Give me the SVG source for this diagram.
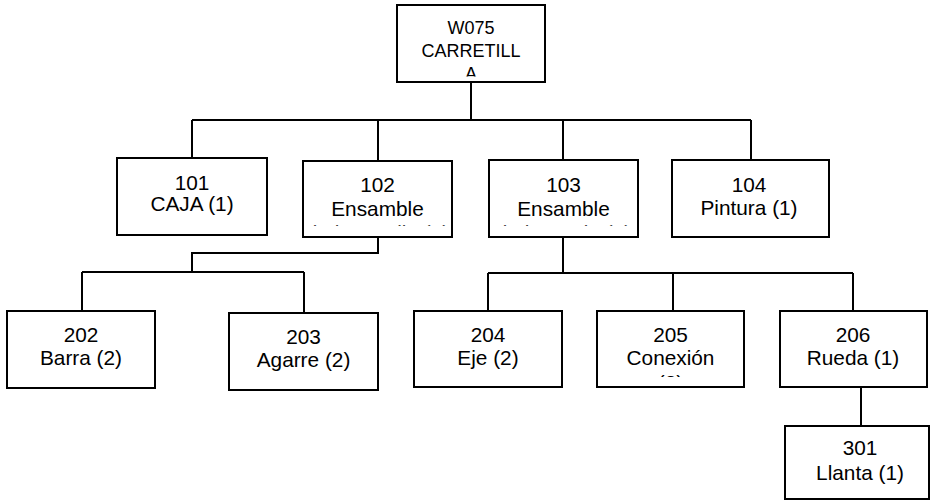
<svg xmlns="http://www.w3.org/2000/svg" width="931" height="501" viewBox="0 0 931 501">
<style>
.box{fill:#fff;stroke:#000;stroke-width:2}
.t{font-family:"Liberation Sans",Arial,sans-serif;font-size:20.8px;fill:#000;text-anchor:middle}
.tt{font-family:"Liberation Sans",Arial,sans-serif;font-size:18px;fill:#000;text-anchor:middle}
.c{fill:none;stroke:#000;stroke-width:2}
</style>
<defs>
<clipPath id="clipTop"><rect x="397" y="5" width="148" height="71.5"/></clipPath>
<clipPath id="clip102"><rect x="303" y="161" width="149" height="64.8"/></clipPath>
<clipPath id="clip103"><rect x="489" y="160" width="149" height="65.8"/></clipPath>
<clipPath id="clip205"><rect x="597" y="311" width="147" height="66"/></clipPath>
</defs>
<g id="connectors">
<path class="c" d="M471 82V120M192 120H751M192 120V158M378 120V161M563 120V160M751 120V160"/>
<path class="c" d="M378 237V253H192V272M82 272H304M82 272V311M304 272V313"/>
<path class="c" d="M563 237V273M488 273H853M488 273V311M673 273V311M853 273V311"/>
<path class="c" d="M861 387V426"/>
</g>
<g id="W075">
<rect class="box" x="397" y="5" width="148" height="77"/>
<g clip-path="url(#clipTop)">
<text class="tt" x="471" y="34">W075</text>
<text class="tt" x="471" y="57">CARRETILL</text>
<text class="tt" x="471" y="80">A</text>
</g>
</g>
<g id="n101">
<rect class="box" x="117" y="158" width="150" height="77"/>
<text class="t" x="192" y="190">101</text>
<text class="t" x="192" y="211">CAJA (1)</text>
</g>
<g id="n102">
<rect class="box" x="303" y="161" width="149" height="76"/>
<g clip-path="url(#clip102)">
<text class="t" x="377.5" y="192">102</text>
<text class="t" x="377.5" y="216">Ensamble</text>
<text class="t" x="377.5" y="240">de la manija (1)</text>
</g>
</g>
<g id="n103">
<rect class="box" x="489" y="160" width="149" height="77"/>
<g clip-path="url(#clip103)">
<text class="t" x="563.5" y="192">103</text>
<text class="t" x="563.5" y="216">Ensamble</text>
<text class="t" x="563.5" y="240">de la rueda (1)</text>
</g>
</g>
<g id="n104">
<rect class="box" x="672" y="160" width="157" height="77"/>
<text class="t" x="749" y="192">104</text>
<text class="t" x="749" y="215">Pintura (1)</text>
</g>
<g id="n202">
<rect class="box" x="7" y="311" width="148" height="77"/>
<text class="t" x="81" y="342">202</text>
<text class="t" x="81" y="365">Barra (2)</text>
</g>
<g id="n203">
<rect class="box" x="229" y="313" width="149" height="77"/>
<text class="t" x="303.5" y="344">203</text>
<text class="t" x="303.5" y="367">Agarre (2)</text>
</g>
<g id="n204">
<rect class="box" x="414" y="311" width="148" height="76"/>
<text class="t" x="488" y="342">204</text>
<text class="t" x="488" y="365">Eje (2)</text>
</g>
<g id="n205">
<rect class="box" x="597" y="311" width="147" height="76"/>
<g clip-path="url(#clip205)">
<text class="t" x="670.5" y="342">205</text>
<text class="t" x="670.5" y="365">Conexión</text>
<text class="t" x="670.5" y="390">(2)</text>
</g>
</g>
<g id="n206">
<rect class="box" x="780" y="311" width="147" height="76"/>
<text class="t" x="853" y="342">206</text>
<text class="t" x="853" y="365">Rueda (1)</text>
</g>
<g id="n301">
<rect class="box" x="785" y="426" width="144" height="73"/>
<text class="t" x="860" y="455">301</text>
<text class="t" x="860" y="480">Llanta (1)</text>
</g>
</svg>
